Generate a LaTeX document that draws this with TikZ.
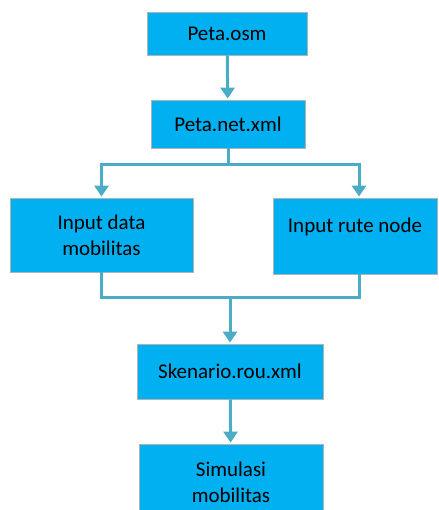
\documentclass[tikz,border=0pt]{standalone}
\usepackage{fontspec}
\setmainfont{Carlito}
\usetikzlibrary{arrows.meta}
\definecolor{boxfill}{HTML}{00B0F0}
\definecolor{flowline}{HTML}{4BACC6}
\tikzset{
  box/.style={draw=black!30, line width=0.8pt, fill=boxfill, align=center,
    inner sep=0pt, font=\fontsize{21}{26}\selectfont},
  flow/.style={flowline, line width=3pt},
  flowarrow/.style={flow, -{Triangle[width=14pt,length=11pt]}, shorten >=1pt}
}
\begin{document}
\begin{tikzpicture}[x=1pt,y=-1pt]
      \clip (0,0) rectangle (438,510) ;
      \node[box, minimum width=160pt, minimum height=43pt] (osm) at (227,33.5) {Peta.osm} ;
      \node[box, minimum width=154pt, minimum height=48pt] (net) at (228,124) {Peta.net.xml} ;
      \node[box, minimum width=183pt, minimum height=74pt] (mob) at (101.5,235) {Input data\\mobilitas} ;
      \node[box, minimum width=164pt, minimum height=76pt, text height=14pt, text depth=20pt] %
      (rute) at (355,236) {Input rute node} ;
      \node[box, minimum width=186pt, minimum height=55pt] (rou) at (230,371.5) {Skenario.rou.xml} ;
      \node[box, minimum width=184pt, minimum height=76pt] (sim) at (231,482) {Simulasi\\mobilitas} ;
      % cabang dan gabungan
      \coordinate (split) at (228,165) ;
      \coordinate (merge) at (230,297) ;
      \draw[flowarrow] (osm) -- (net) ;
      \draw[flow] (net.south) -- (split) ;
      \draw[flowarrow] (split) -| (mob) ;
      \draw[flowarrow] (split) -| ([xshift=4pt]rute.north) ;
      \draw[flow] (mob.south) |- (merge) -| ([xshift=4pt]rute.south) ;
      \draw[flowarrow] (merge) -- (rou) ;
      \draw[flowarrow] (rou) -- (sim) ;
    \end{tikzpicture}
\end{document}
